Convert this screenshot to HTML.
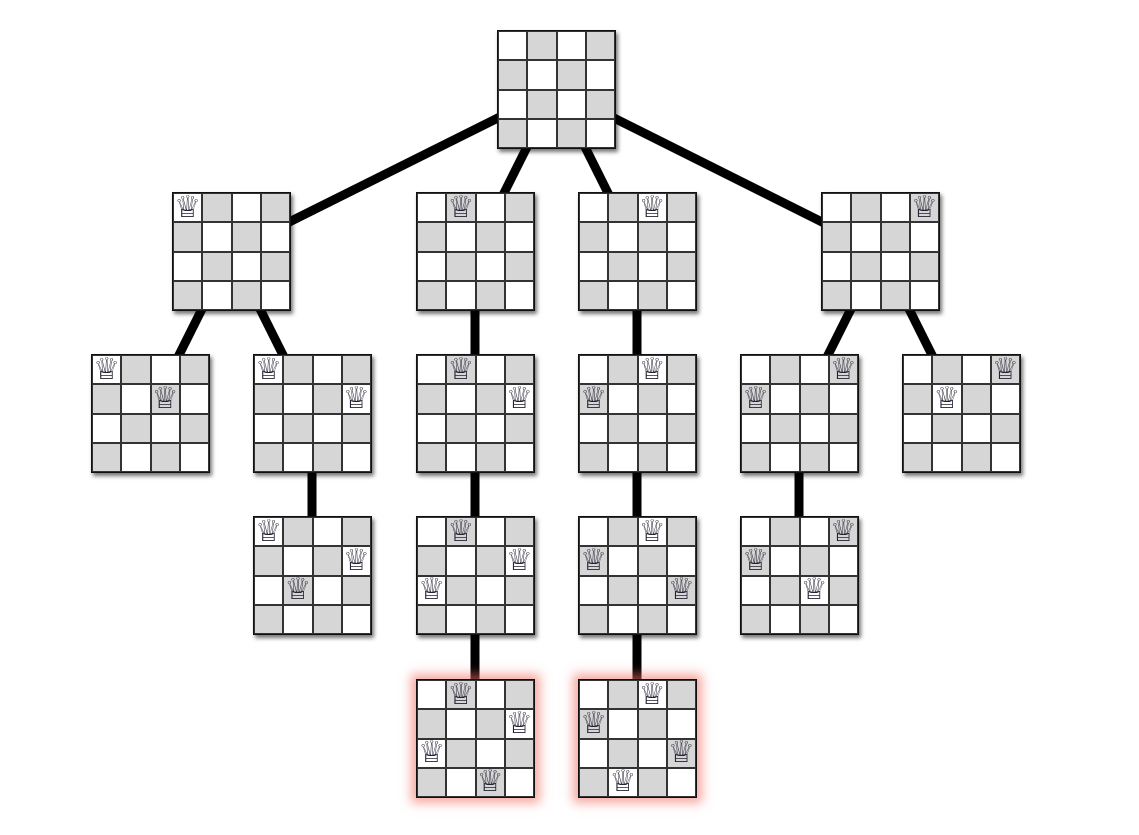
<!DOCTYPE html>
<html><head><style>
body{margin:0;background:#fff;width:1139px;height:835px;position:relative;overflow:hidden}
svg{position:absolute;left:0;top:0}
.b{position:absolute;width:119px;height:119px;border:1.5px solid #111;box-sizing:border-box;display:grid;grid-template-columns:repeat(4,1fr);grid-template-rows:repeat(4,1fr);box-shadow:2px 3px 4px rgba(0,0,0,.55);background:#fff}
.b div{border:0.5px solid #333;display:flex;align-items:center;justify-content:center;font-family:"DejaVu Sans",sans-serif;font-size:30px;color:#223;line-height:1;overflow:hidden}
.g{background:#d6d6d6}
.r{box-shadow:0 0 10px 5px rgba(240,110,100,.6)}
</style></head><body>
<svg width="1139" height="835">
<g stroke="#000" stroke-width="9">
<line x1="556" y1="89" x2="231" y2="251"/>
<line x1="556" y1="89" x2="475" y2="251"/>
<line x1="556" y1="89" x2="637" y2="251"/>
<line x1="556" y1="89" x2="880" y2="251"/>
<line x1="231" y1="251" x2="150" y2="413"/>
<line x1="231" y1="251" x2="312" y2="413"/>
<line x1="475" y1="251" x2="475" y2="738"/>
<line x1="637" y1="251" x2="637" y2="738"/>
<line x1="880" y1="251" x2="799" y2="413"/>
<line x1="880" y1="251" x2="961" y2="413"/>
<line x1="312" y1="413" x2="312" y2="575"/>
<line x1="799" y1="413" x2="799" y2="575"/>
</g></svg>
<div id="c"></div>
<script>
var B=[[497,30,[]],
[172,192,[0]],[416,192,[1]],[578,192,[2]],[821,192,[3]],
[91,354,[0,2]],[253,354,[0,3]],[416,354,[1,3]],[578,354,[2,0]],[740,354,[3,0]],[902,354,[3,1]],
[253,516,[0,3,1]],[416,516,[1,3,0]],[578,516,[2,0,3]],[740,516,[3,0,2]],
[416,679,[1,3,0,2],1],[578,679,[2,0,3,1],1]];
var h='';
B.forEach(function(b){
h+='<div class="b'+(b[3]?' r':'')+'" style="left:'+b[0]+'px;top:'+b[1]+'px">';
for(var r=0;r<4;r++)for(var c=0;c<4;c++){h+='<div'+((r+c)%2?' class="g"':'')+'>'+(b[2][r]===c?'♕':'')+'</div>';}
h+='</div>';});
document.getElementById('c').innerHTML=h;
</script>
</body></html>
